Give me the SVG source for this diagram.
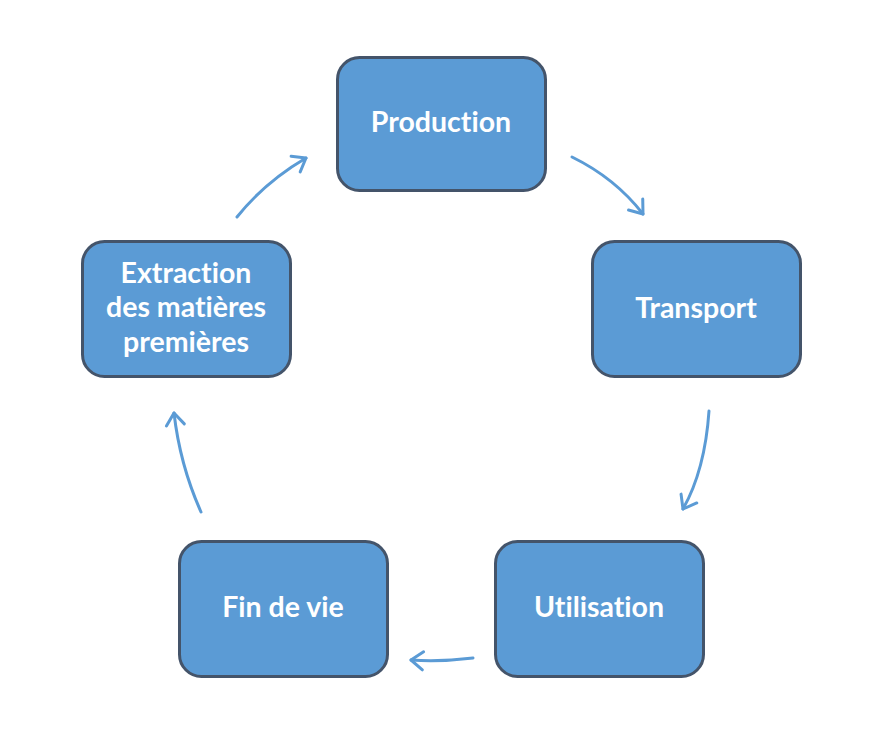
<svg xmlns="http://www.w3.org/2000/svg" width="884" height="740" viewBox="0 0 884 740">
<style>
.box{fill:#5b9bd5;stroke:#44546a;stroke-width:3}
.lbl{fill:#ffffff;font-family:Lato,"Open Sans","Liberation Sans",sans-serif;font-weight:bold;font-size:28.5px;text-anchor:middle;font-variant-ligatures:none;font-feature-settings:"liga" 0}
.arr{fill:none;stroke:#5b9bd5;stroke-width:3;stroke-linecap:round;marker-end:url(#ah)}
</style>
<defs>
<marker id="ah" markerUnits="userSpaceOnUse" markerWidth="30" markerHeight="30" refX="0" refY="0" viewBox="-15 -15 30 30" orient="auto" overflow="visible">
<path d="M -12 -9 L 0 0 L -12 9" fill="none" stroke="#5b9bd5" stroke-width="3" stroke-linecap="round" stroke-linejoin="round"/>
</marker>
</defs>
<rect width="884" height="740" fill="#ffffff"/>
<g id="connectors">
<path class="arr" d="M 572 157 Q 615 178 643 214"/>
<path class="arr" d="M 709 411 Q 705 470 683 509"/>
<path class="arr" d="M 473 658 Q 440 662 411 660"/>
<path class="arr" d="M 201 512 Q 180 465 174 413"/>
<path class="arr" d="M 237 217 Q 265 182 306 158"/>
</g>
<g id="production">
<rect class="box" x="337.5" y="57.5" width="208" height="133" rx="22"/>
<text class="lbl" x="441" y="132">Production</text>
</g>
<g id="transport">
<rect class="box" x="592.5" y="241.5" width="208" height="135" rx="22"/>
<text class="lbl" x="696" y="318">Transport</text>
</g>
<g id="utilisation">
<rect class="box" x="495.5" y="541.5" width="208" height="135" rx="22"/>
<text class="lbl" x="599" y="617">Utilisation</text>
</g>
<g id="findevie">
<rect class="box" x="179.5" y="541.5" width="208" height="135" rx="22"/>
<text class="lbl" x="283" y="617">Fin de vie</text>
</g>
<g id="extraction">
<rect class="box" x="82.5" y="241.5" width="208" height="135" rx="22"/>
<text class="lbl" x="186" y="283">Extraction</text>
<text class="lbl" x="186" y="317">des matières</text>
<text class="lbl" x="186" y="352">premières</text>
</g>
</svg>
